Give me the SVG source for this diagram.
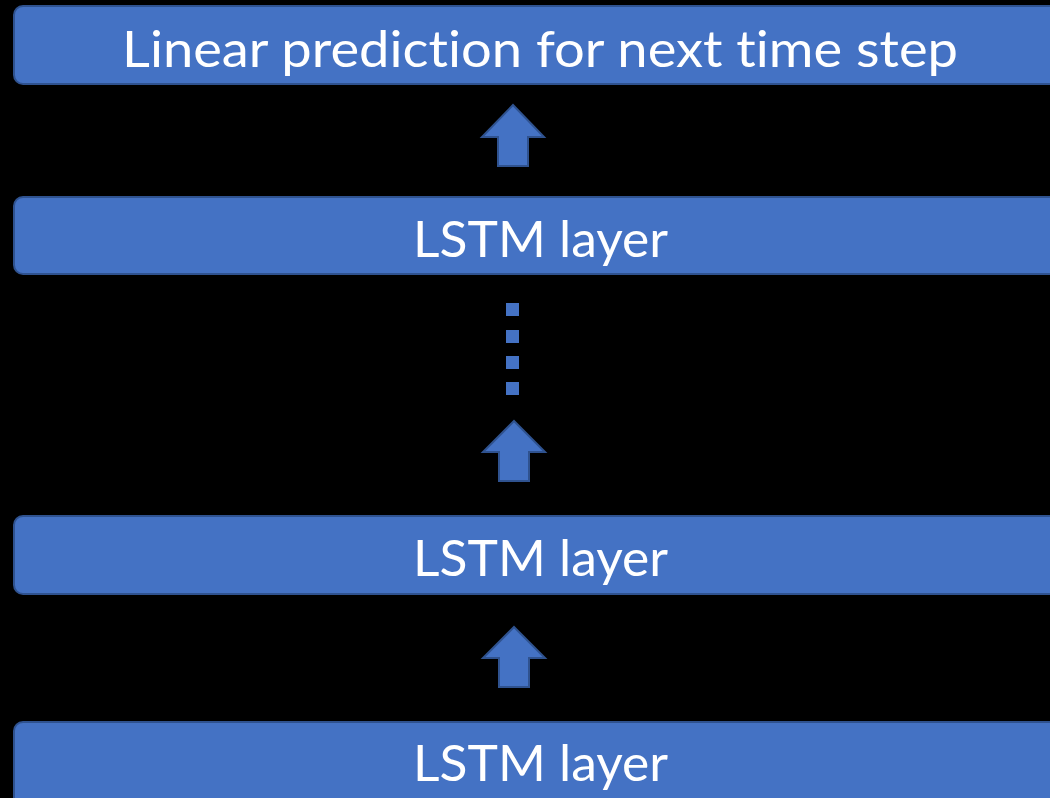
<svg xmlns="http://www.w3.org/2000/svg" width="1050" height="798" viewBox="0 0 1050 798">
<style>
.box{fill:#4472C4;stroke:#2F528F;stroke-width:2}
.lbl{fill:#FFFFFF;font-family:Lato,"Open Sans","Liberation Sans",sans-serif;font-size:51px;text-anchor:middle;font-variant-ligatures:none;font-feature-settings:"liga" 0}
.arr{fill:#4472C4;stroke:#2F528F;stroke-width:2;stroke-linejoin:miter}
.dot{fill:#4472C4}
</style>
<rect width="1050" height="798" fill="#000000"/>
<g id="node-linear">
<rect class="box" x="14" y="6" width="1060" height="78" rx="9"/>
<text class="lbl" x="540" y="67" textLength="836" lengthAdjust="spacingAndGlyphs">Linear prediction for next time step</text>
</g>
<g id="node-lstm-top">
<rect class="box" x="14" y="197" width="1060" height="77" rx="9"/>
<text class="lbl" x="540.5" y="257" textLength="255" lengthAdjust="spacingAndGlyphs">LSTM layer</text>
</g>
<g id="node-lstm-mid">
<rect class="box" x="14" y="516" width="1060" height="78" rx="9"/>
<text class="lbl" x="540.5" y="576" textLength="255" lengthAdjust="spacingAndGlyphs">LSTM layer</text>
</g>
<g id="node-lstm-bottom">
<rect class="box" x="14" y="722" width="1060" height="100" rx="9"/>
<text class="lbl" x="540.5" y="781" textLength="255" lengthAdjust="spacingAndGlyphs">LSTM layer</text>
</g>
<g id="connectors">
<polygon class="arr" points="513,105 544,137 528,137 528,166 498,166 498,137 482,137"/>
<rect class="dot" x="506" y="303" width="13" height="13"/>
<rect class="dot" x="506" y="330" width="13" height="13"/>
<rect class="dot" x="506" y="356" width="13" height="13"/>
<rect class="dot" x="506" y="382" width="13" height="13"/>
<polygon class="arr" points="514,421 545,452 529,452 529,481 499,481 499,452 483,452"/>
<polygon class="arr" points="514,627 545,658 529,658 529,687 499,687 499,658 483,658"/>
</g>
</svg>
